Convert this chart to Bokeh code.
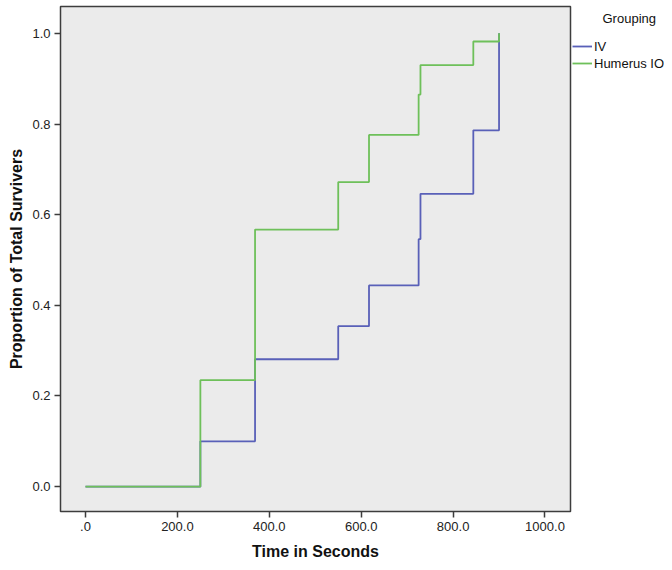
from bokeh.plotting import figure
from bokeh.layouts import row
from bokeh.models import (FixedTicker, PrintfTickFormatter, Legend, LegendItem, Range1d, Label)
from bokeh.embed import file_html
from bokeh.resources import INLINE

# ---- data ----
time_s = [0, 250, 369, 550, 617, 725, 729, 844, 900]
iv = [0.0, 0.100, 0.281, 0.354, 0.444, 0.546, 0.646, 0.786, 1.0]
humerus_io = [0.0, 0.235, 0.567, 0.672, 0.776, 0.865, 0.930, 0.982, 1.0]
series_names = ["IV", "Humerus IO"]
series_colors = ["#5960b8", "#6ec05a"]
x_ticks = [0, 200, 400, 600, 800, 1000]
y_ticks = [0.0, 0.2, 0.4, 0.6, 0.8, 1.0]

FONT = "Liberation Sans"
H = 562
FRAME_BOTTOM = 514  # frames of the two figures in the row are aligned

p = figure(width=572, height=H, output_backend="svg", toolbar_location=None,
           x_range=Range1d(-54.4, 1055.5), y_range=Range1d(-0.0548, 1.0592),
           min_border_left=60, min_border_right=2, min_border_top=6, min_border_bottom=48)

p.background_fill_color = "#ebebeb"
p.border_fill_color = "white"
p.outline_line_color = "#3d3d3d"
p.outline_line_width = 1.5
p.xgrid.visible = False
p.ygrid.visible = False

p.step(time_s, iv, mode="after", line_color=series_colors[0], line_width=1.8)
p.step(time_s, humerus_io, mode="after", line_color=series_colors[1], line_width=1.8)

for ax in (p.xaxis[0], p.yaxis[0]):
    ax.axis_line_color = None
    ax.major_tick_line_color = "#3d3d3d"
    ax.major_tick_line_width = 1.5
    ax.major_tick_out = 6
    ax.major_tick_in = 0
    ax.minor_tick_line_color = None
    ax.major_label_text_font = FONT
    ax.major_label_text_font_size = "13px"
    ax.major_label_text_color = "#222222"
    ax.major_label_standoff = 4
    ax.axis_label_text_font = FONT
    ax.axis_label_text_font_size = "16px"
    ax.axis_label_text_font_style = "bold"
    ax.axis_label_text_color = "#111111"

p.xaxis.ticker = FixedTicker(ticks=x_ticks)
p.xaxis.formatter = PrintfTickFormatter(format="%.1f")
p.xaxis.major_label_overrides = {0: ".0"}
p.xaxis.axis_label = "Time in Seconds"
p.xaxis.axis_label_standoff = 9

p.yaxis.ticker = FixedTicker(ticks=y_ticks)
p.yaxis.formatter = PrintfTickFormatter(format="%.1f")
p.yaxis.axis_label = "Proportion of Total Survivers"
p.yaxis.axis_label_standoff = 4

# ---- legend panel (separate figure to the right of the plot) ----
lg = figure(width=92, height=H, output_backend="svg", toolbar_location=None,
            x_range=Range1d(0, 1), y_range=Range1d(0, 1),
            x_axis_type=None, y_axis_type=None,
            min_border_left=0, min_border_right=0, min_border_top=6, min_border_bottom=48)
lg.outline_line_color = None
lg.background_fill_color = "white"
lg.border_fill_color = "white"
lg.xgrid.visible = False
lg.ygrid.visible = False

items = []
for name, col in zip(series_names, series_colors):
    # legend-only stand-in renderer (a single NaN point draws nothing in the panel)
    r = lg.step(x=[float("nan")], y=[float("nan")], mode="after", line_color=col, line_width=1.8)
    items.append(LegendItem(label=name, renderers=[r]))

legend = Legend(items=items, location=(0, FRAME_BOTTOM - 39 - 35))
legend.margin = 0
legend.padding = 1
legend.border_line_color = None
legend.background_fill_alpha = 0
legend.glyph_width = 20
legend.glyph_height = 16
legend.label_height = 16
legend.label_standoff = 2
legend.spacing = 1
legend.label_text_font = FONT
legend.label_text_font_size = "13px"
legend.label_text_color = "#111111"
lg.add_layout(legend, "center")

lg.add_layout(Label(x=30, y=FRAME_BOTTOM - 21, x_units="screen", y_units="screen",
                    text="Grouping",
                    text_font=FONT, text_font_size="13px", text_color="#111111",
                    text_baseline="middle", text_align="left"))

layout = row(p, lg)
open("out.html", "w").write(file_html(layout, INLINE))
